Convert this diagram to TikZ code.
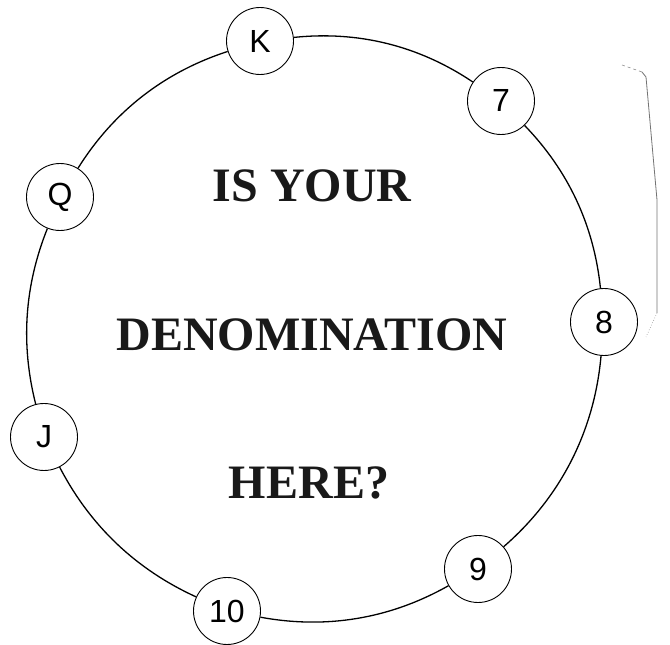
\documentclass[tikz,border=0pt]{standalone}
\usepackage{fontspec}
\setmainfont{Liberation Serif}
\setsansfont{Liberation Sans}
\usepackage{tikz}
\usetikzlibrary{positioning}

\tikzset{
  card/.style={circle, draw=black, line width=0.9pt, minimum size=67pt, inner sep=0pt,
    font=\fontsize{32}{32}\selectfont\sffamily},
  ring/.style={draw=black, line width=1.3pt, looseness=0.9},
  bigword/.style={font=\fontsize{48}{52}\selectfont\bfseries, text=black!90}
}

\begin{document}
\begin{tikzpicture}[x=1pt, y=1pt]
\useasboundingbox (0,0) rectangle (670,645);
% cards round the ring
\node[card] (K)   at (260,604) {K};
\node[card] (c7)  at (501,544) {7};
\node[card] (c8)  at (604,323) {8};
\node[card] (c9)  at (478,76)  {9};
\node[card] (c10) at (227,34)  {10};
\node[card] (J)   at (44,208)  {J};
\node[card] (Q)   at (60,448)  {Q};
% the ring itself
\draw[ring] (K) to[bend left=20] (c7);
\draw[ring] (c7) to[bend left=19] (c8);
\draw[ring] (c8) to[bend left=22] (c9);
\draw[ring] (c9) to[bend left=20] (c10);
\draw[ring] (c10) to[bend left=19] (J);
\draw[ring] (J) to[bend left=18] (Q);
\draw[ring] (Q) to[bend left=20] (K);
% question in the middle
\node[bigword] (l1) at (312,459) {IS YOUR};
\node[bigword] (l2) at (312,310) {DENOMINATION};
\node[bigword] (l3) at (309,162) {HERE?};
% faint page edge at the right
\draw[black!45, line width=0.6pt, dashed] (622,580) -- (642,573);
\draw[black!55, line width=0.8pt] (642,573) -- (646,568) -- (657,445) -- (657,332);
\draw[black!45, line width=0.6pt, dotted] (657,332) -- (646,308);
\end{tikzpicture}
\end{document}
